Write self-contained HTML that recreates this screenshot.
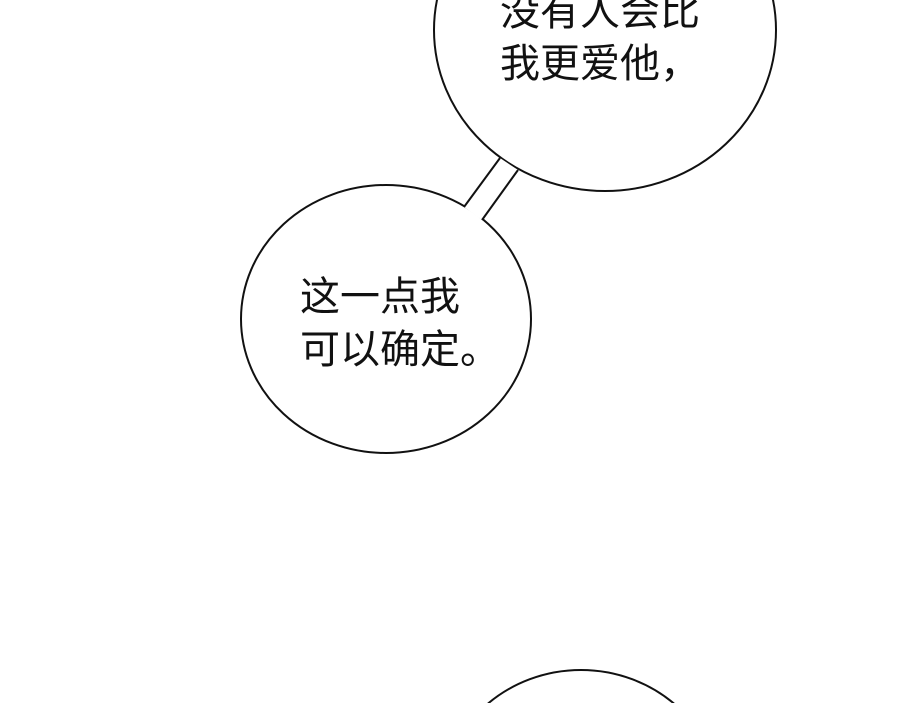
<!DOCTYPE html>
<html><head><meta charset="utf-8"><style>
html,body{margin:0;padding:0;background:#fff;width:900px;height:703px;overflow:hidden;}
svg{display:block;overflow:hidden}
text{font-family:"Liberation Sans","Noto Sans CJK SC",sans-serif;font-size:40px;fill:#111;}
</style></head><body>
<svg width="900" height="703" viewBox="0 0 900 703">
<rect width="900" height="703" fill="#fff"/>
<ellipse cx="605" cy="30" rx="171" ry="161" fill="#fff" stroke="#111" stroke-width="2"/>
<ellipse cx="386" cy="319" rx="145" ry="134" fill="#fff" stroke="#111" stroke-width="2"/>
<polygon points="464,207 500,158 518,170 482,220" fill="#fff"/>
<line x1="464" y1="207" x2="500" y2="158" stroke="#111" stroke-width="2"/>
<line x1="482" y1="220" x2="518" y2="170" stroke="#111" stroke-width="2"/>
<ellipse cx="581" cy="803" rx="140" ry="133" fill="#fff" stroke="#111" stroke-width="2"/>
<text x="500" y="25">没有人会比</text>
<text x="500" y="77">我更爱他，</text>
<text x="300" y="310">这一点我</text>
<text x="300" y="363">可以确定。</text>
</svg>
</body></html>
